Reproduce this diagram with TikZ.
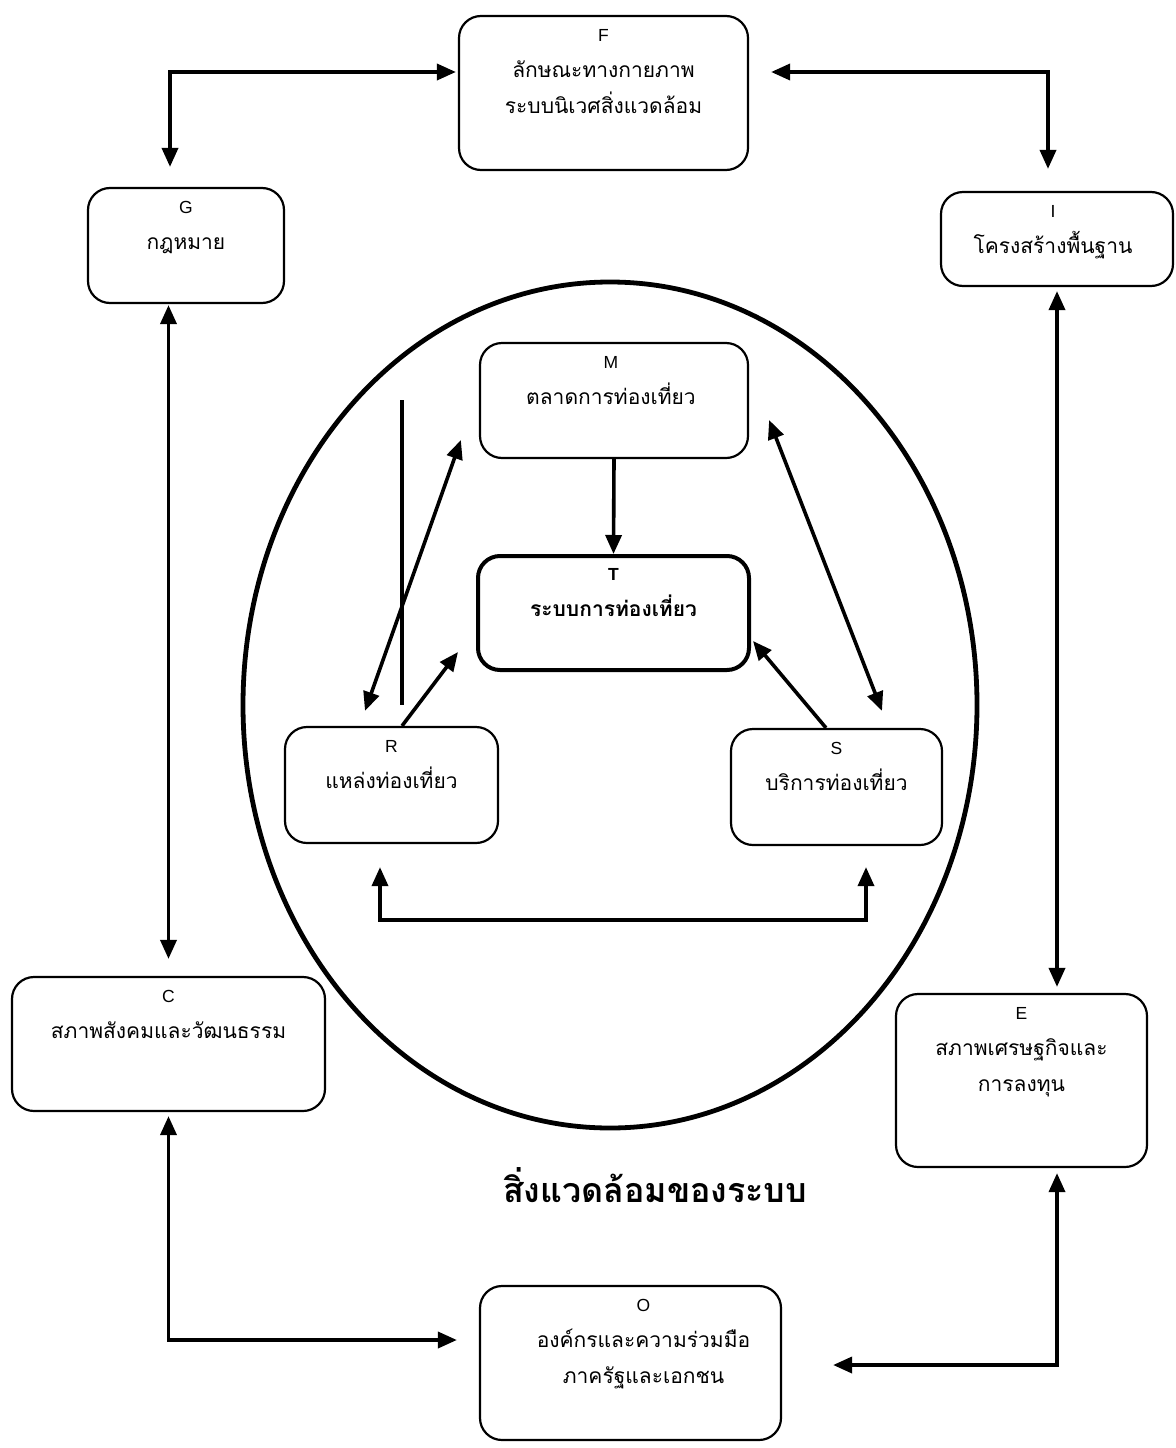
\documentclass[tikz,border=0pt]{standalone}
\usepackage{fontspec}
\usetikzlibrary{arrows.meta,calc}
\newfontfamily\thaifont[Script=Thai]{Loma}
\newfontfamily\latf{Liberation Sans}
\newcommand{\lt}[1]{{\latf\fontsize{17.5}{36}\selectfont #1}}
\tikzset{
  box/.style={draw, line width=2.2pt, rounded corners=22pt, inner sep=0pt},
  lbl/.style={anchor=north, align=center, inner sep=0pt, font=\thaifont\fontsize{21}{36}\selectfont},
  con/.style={line width=3.6pt, -{Triangle[length=19pt,width=16pt]}},
  bicon/.style={line width=3.6pt, {Triangle[length=19pt,width=16pt]}-{Triangle[length=19pt,width=16pt]}},
}
\begin{document}
\begin{tikzpicture}[x=1pt,y=-1pt]
\useasboundingbox (0,0) rectangle (1175,1448);
% ellipse
\draw[line width=4.8pt] (610,705) ellipse [x radius=367pt, y radius=423pt];
% outer boxes
\node[box, minimum width=289pt, minimum height=154pt] (F) at (603.5,93) {};
\node[box, minimum width=196pt, minimum height=115pt] (G) at (186,245.5) {};
\node[box, minimum width=232pt, minimum height=94pt] (I) at (1057,239) {};
\node[box, minimum width=313pt, minimum height=134pt] (C) at (168.5,1044) {};
\node[box, minimum width=251pt, minimum height=173pt] (E) at (1021.5,1080.5) {};
\node[box, minimum width=301pt, minimum height=154pt] (O) at (630.5,1363) {};
% inner boxes
\node[box, minimum width=268pt, minimum height=115pt] (M) at (614,400.5) {};
\node[box, line width=4pt, minimum width=271pt, minimum height=114pt] (T) at (613.5,613) {};
\node[box, minimum width=213pt, minimum height=116pt] (R) at (391.5,785) {};
\node[box, minimum width=211pt, minimum height=116pt] (S) at (836.5,787) {};
% labels
\node[lbl] at ([yshift=-14pt]F.north) {\lt{F}\\ลักษณะทางกายภาพ\\ระบบนิเวศสิ่งแวดล้อม};
\node[lbl] at ([yshift=-14pt]G.north) {\lt{G}\\กฎหมาย};
\node[lbl] at ([yshift=-14pt,xshift=-4pt]I.north) {\lt{I}\\โครงสร้างพื้นฐาน};
\node[lbl] at ([yshift=-14pt]C.north) {\lt{C}\\สภาพสังคมและวัฒนธรรม};
\node[lbl] at ([yshift=-14pt]E.north) {\lt{E}\\สภาพเศรษฐกิจและ\\การลงทุน};
\node[lbl] at ([yshift=-14pt,xshift=13pt]O.north) {\lt{O}\\องค์กรและความร่วมมือ\\ภาครัฐและเอกชน};
\node[lbl] at ([yshift=-14pt,xshift=-3pt]M.north) {\lt{M}\\ตลาดการท่องเที่ยว};
\node[lbl, font=\thaifont\bfseries\fontsize{21}{36}\selectfont] at ([yshift=-14pt]T.north) {\lt{T}\\ระบบการท่องเที่ยว};
\node[lbl] at ([yshift=-14pt]R.north) {\lt{R}\\แหล่งท่องเที่ยว};
\node[lbl] at ([yshift=-14pt]S.north) {\lt{S}\\บริการท่องเที่ยว};
% title
\node[font=\thaifont\bfseries\fontsize{34}{40}\selectfont] (title) at (655,1185) {สิ่งแวดล้อมของระบบ};
% corner coordinates
\coordinate (fg) at (170,72);
\coordinate (fi) at (1048,72);
\coordinate (co) at (168,1340);
\coordinate (eo) at (1057,1365);
\coordinate (rs1) at (380,920);
\coordinate (rs2) at (866,920);
% outer connectors
\draw[bicon, shorten <=20pt, shorten >=2pt] (G.north -| fg) -- (fg) -- (F.west |- fg);
\draw[bicon, shorten <=22pt, shorten >=22pt] (F.east |- fi) -- (fi) -- (I.north -| fi);
\draw[bicon, shorten <=1pt, shorten >=17pt] (G.south -| C.north) -- (C.north);
\draw[bicon, shorten <=4pt, shorten >=6pt] (I.south) -- (I.south |- E.north);
\draw[bicon, shorten <=4pt, shorten >=22pt] (C.south) -- (C.south |- co) -- (O.west |- co);
\draw[bicon, shorten <=5pt, shorten >=51pt] (E.south -| eo) -- (eo) -- (O.east |- eo);
% inner connectors
\draw[con] (M.south) -- (T.north);
\draw[bicon] ([xshift=-26.5pt,yshift=15pt]R.north) -- ([xshift=-18pt,yshift=-39.5pt]M.west);
\draw[con] ([xshift=10.5pt]R.north) -- ([xshift=-18pt,yshift=-39pt]T.west);
\draw[con] ([xshift=-10.5pt]S.north) -- ([xshift=2pt,yshift=-28pt]T.east);
\draw[bicon] ([xshift=20pt,yshift=-19.5pt]M.east) -- ([xshift=45.5pt,yshift=17pt]S.north);
\draw[line width=3.6pt] (402,400) -- (402,705);
\draw[bicon, shorten <=23pt, shorten >=21pt] (R.south -| rs1) -- (rs1) -- (rs2) -- (S.south -| rs2);
\end{tikzpicture}
\end{document}
